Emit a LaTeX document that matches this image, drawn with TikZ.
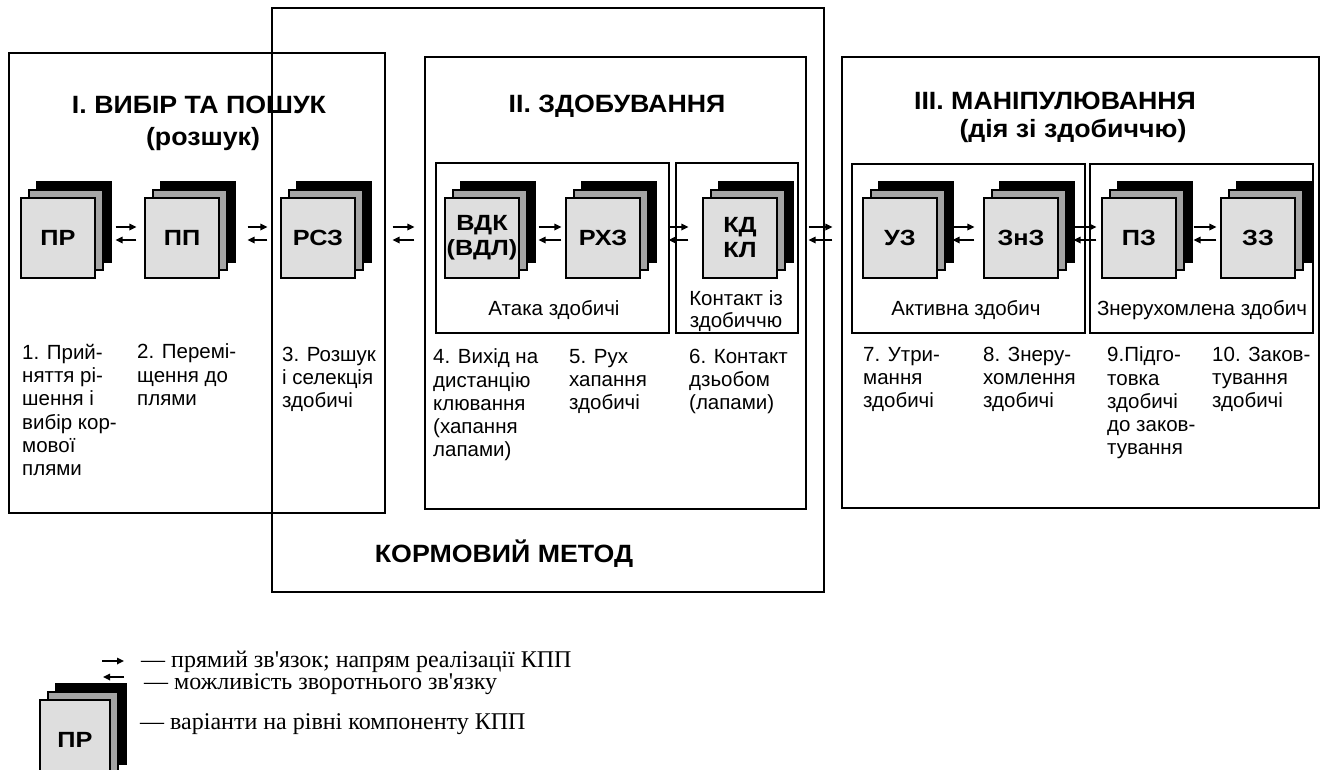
\documentclass[tikz,border=0pt]{standalone}
\usepackage{fontspec}
\setmainfont{Liberation Serif}
\setsansfont{Liberation Sans}
\newfontfamily\hdfont[FakeStretch=1.07]{Liberation Sans}
\newfontfamily\cdfont[FakeStretch=1.15]{Liberation Sans}
\usepackage{tikz}
\usetikzlibrary{arrows.meta,shadows}
\definecolor{CardFill}{RGB}{222,222,222}
\definecolor{CardMid} {RGB}{165,165,165}
\tikzset{
  nd_card/.style={rectangle,draw=black,line width=1.1pt,fill=CardFill,minimum width=74,minimum height=80,inner sep=0pt,align=center,
    font=\cdfont\bfseries\fontsize{22}{25}\selectfont,
    general shadow={fill=black,draw=black,shadow xshift=16pt,shadow yshift=16pt},
    general shadow={fill=CardMid,draw=black,shadow xshift=8pt,shadow yshift=8pt}},
  nd_head/.style={font=\hdfont\bfseries\fontsize{25}{28}\selectfont,anchor=base,inner sep=0pt},
  nd_grp/.style={font=\sffamily\fontsize{20.5}{22}\selectfont,anchor=base,align=center,inner sep=0pt},
  nd_desc/.style={font=\sffamily\fontsize{20.5}{23.3}\selectfont,anchor=north west,yshift=16.31pt,align=left,inner sep=0pt,
    execute at begin node=\strut},
  nd_leg/.style={font=\fontsize{24}{26}\selectfont,anchor=base west,inner sep=0pt},
  frame/.style={line width=1.8pt},
  arr/.style={-{Triangle[length=7pt,width=6.5pt]},line width=1.6pt},
}
\begin{document}
\begin{tikzpicture}[x=1pt,y=-1pt]
\useasboundingbox (0,0) rectangle (1328,769);
% frames
\draw[frame](272,8) rectangle (824,592);
\draw[frame](9,53) rectangle (385,513);
\draw[frame](425,57) rectangle (806,509);
\draw[frame](842,57) rectangle (1319,508);
\draw[frame](436,163) rectangle (669,333);
\draw[frame](676,163) rectangle (798,333);
\draw[frame](852,164) rectangle (1085,333);
\draw[frame](1090,164) rectangle (1313,333);
% headings
\node[nd_head] at (199,113)(H1){I. ВИБІР ТА ПОШУК};
\node[nd_head] at (203,145)(H1b){(розшук)};
\node[nd_head] at (617,112)(H2){II. ЗДОБУВАННЯ};
\node[nd_head] at (1055,109)(H3){III. МАНІПУЛЮВАННЯ};
\node[nd_head] at (1073,137)(H3b){(дія зі здобиччю)};
\node[nd_head] at (504,562)(HM){КОРМОВИЙ МЕТОД};
% cards
\node[nd_card] at (58,238)(PR){ПР};
\node[nd_card] at (182,238)(PP){ПП};
\node[nd_card] at (318,238)(RSZ){РСЗ};
\node[nd_card] at (482,238)(VDK){ВДК\\(ВДЛ)};
\node[nd_card] at (603,238)(RKhZ){РХЗ};
\node[nd_card] at (740,238)(KD){КД\\КЛ};
\node[nd_card] at (900,238)(UZ){УЗ};
\node[nd_card] at (1021,238)(ZnZ){ЗнЗ};
\node[nd_card] at (1139,238)(PZ){ПЗ};
\node[nd_card] at (1258,238)(ZZ){ЗЗ};
% group labels
\node[nd_grp] at (554,315)(G1){Атака здобичі};
\node[nd_grp] at (736,327)(G2){Контакт із\\здобиччю};
\node[nd_grp] at (966,315)(G3){Активна здобич};
\node[nd_grp] at (1202,315)(G4){Знерухомлена здобич};
% descriptions
\node[nd_desc] at (22,360)(D1){1. Прий-\\няття рі-\\шення і\\вибір кор-\\мової\\плями};
\node[nd_desc] at (137,360)(D2){2. Перемі-\\щення до\\плями};
\node[nd_desc] at (282,363)(D3){3. Розшук\\і селекція\\здобичі};
\node[nd_desc] at (433,365)(D4){4. Вихід на\\дистанцію\\клювання\\(хапання\\лапами)};
\node[nd_desc] at (569,365)(D5){5. Рух\\хапання\\здобичі};
\node[nd_desc] at (689,365)(D6){6. Контакт\\дзьобом\\(лапами)};
\node[nd_desc] at (863,363)(D7){7. Утри-\\мання\\здобичі};
\node[nd_desc] at (983,363)(D8){8. Знеру-\\хомлення\\здобичі};
\node[nd_desc] at (1107,363)(D9){9.Підго-\\товка\\здобичі\\до заков-\\тування};
\node[nd_desc] at (1212,363)(D10){10. Заков-\\тування\\здобичі};
% arrows
\foreach \na/\nb/\sa/\sb in {PR/PP/20/8,PP/RSZ/28/13,RSZ/VDK/37/30,VDK/RKhZ/19/4,RKhZ/KD/28/14,KD/UZ/31/30,UZ/ZnZ/15/9,ZnZ/PZ/15/5,PZ/ZZ/17/4}{
  \draw[arr,shorten <=\sa,shorten >=\sb]([yshift=11pt]\na.east)--([yshift=11pt]\nb.west);
  \draw[arr,shorten <=\sb,shorten >=\sa]([yshift=-2pt]\nb.west)--([yshift=-2pt]\na.east);
}
% legend
\node[nd_card,minimum width=70] at (75,740)(LPR){ПР};
\coordinate (LF1) at (102,661);\coordinate (LF2) at (124,661);
\coordinate (LB1) at (124,677);\coordinate (LB2) at (103,677);
\draw[arr](LF1)--(LF2);
\draw[arr](LB1)--(LB2);
\node[nd_leg] at (141,667)(L1){— прямий зв\textquotesingle язок; напрям реалізації КПП};
\node[nd_leg] at (144,689)(L2){— можливість зворотнього зв\textquotesingle язку};
\node[nd_leg] at (140,729)(L3){— варіанти на рівні компоненту КПП};
\end{tikzpicture}
\end{document}
